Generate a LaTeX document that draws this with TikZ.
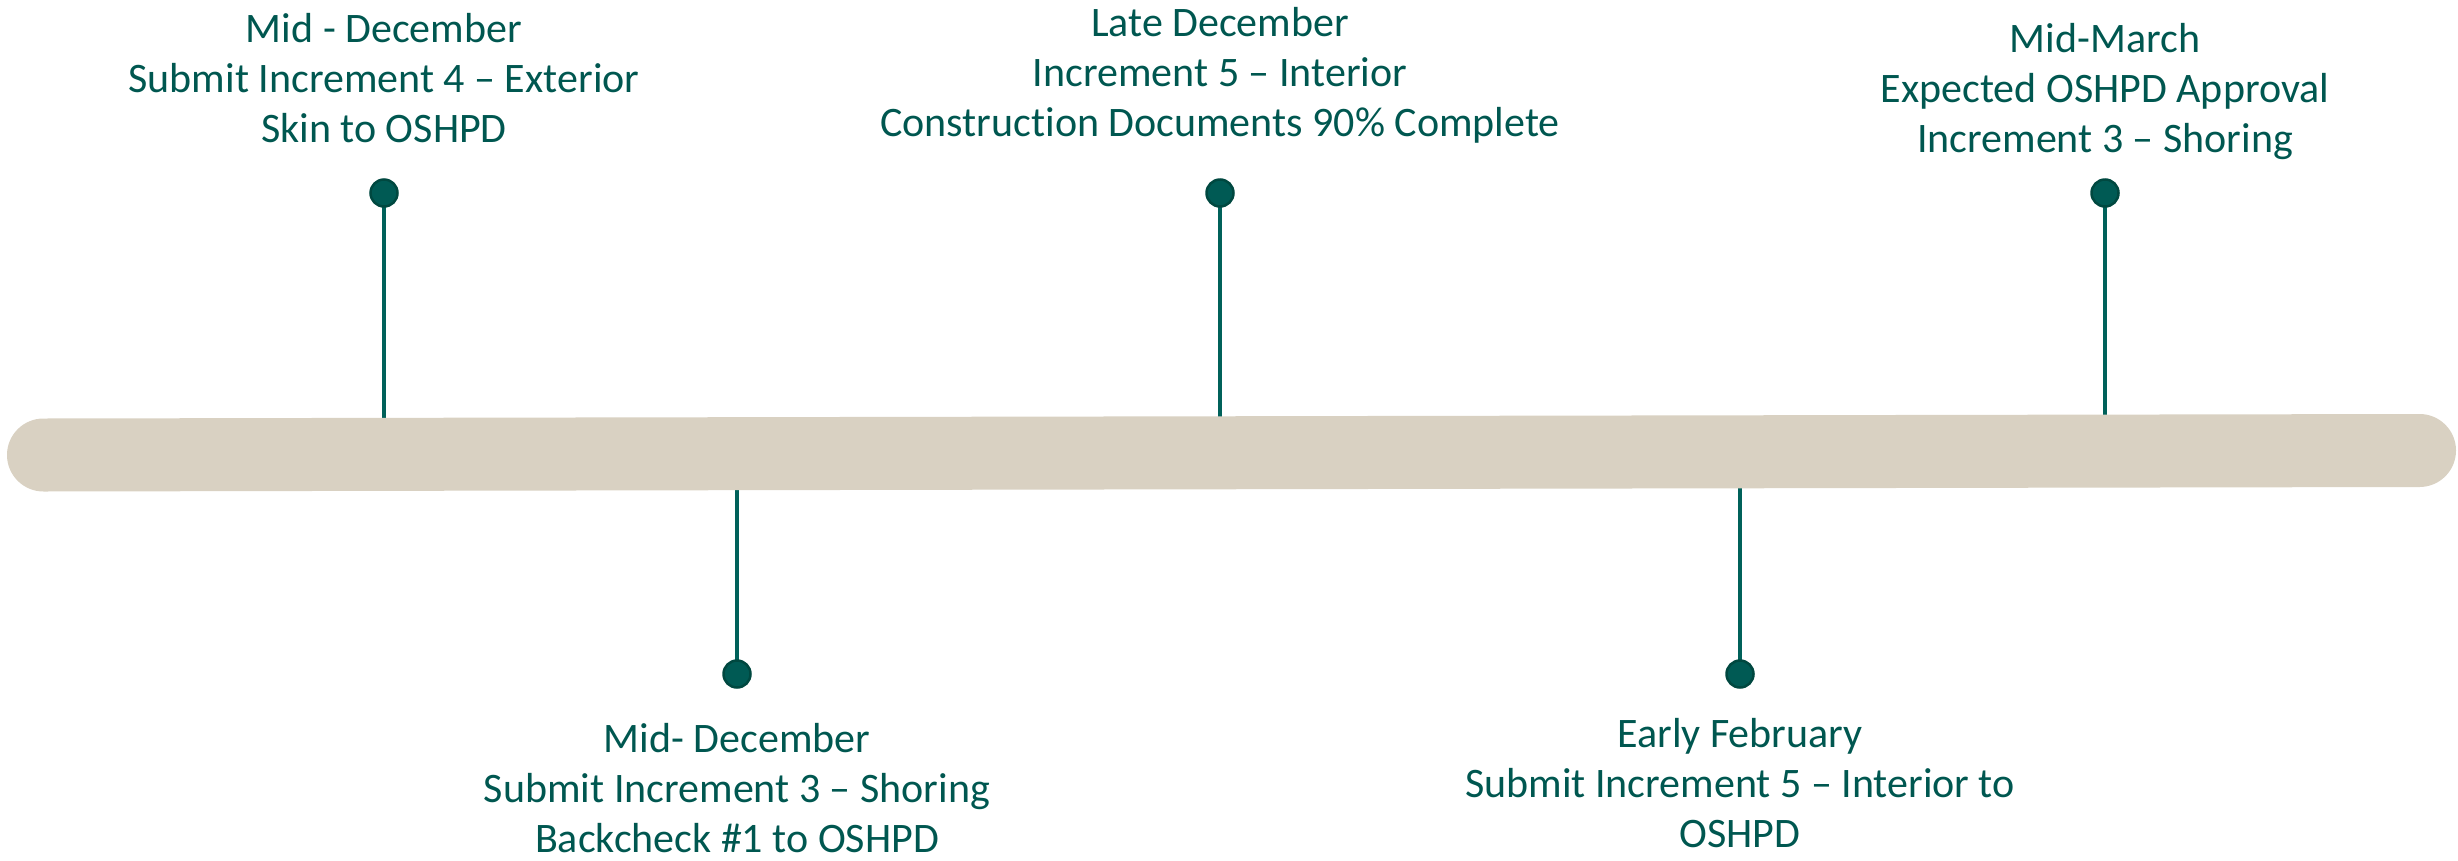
\documentclass[tikz,border=0pt]{standalone}
\usepackage{fontspec}
\setmainfont[Ligatures=NoCommon]{Carlito}
\definecolor{tealtext}{HTML}{005750}
\definecolor{tealdot}{HTML}{005A54}
\definecolor{tealedge}{HTML}{004840}
\definecolor{tealline}{HTML}{00615A}
\definecolor{barfill}{HTML}{D9D1C2}
\begin{document}
\begin{tikzpicture}[x=1pt,y=-1pt,
  lbl/.style={align=center,text=tealtext,inner sep=0pt,anchor=base,
    font=\fontsize{42}{50}\selectfont},
  dot/.style={circle,fill=tealdot,draw=tealedge,line width=2.5pt,
    minimum size=27pt,inner sep=0pt},
  stem/.style={draw=tealline,line width=4pt}]
\useasboundingbox (0,0) rectangle (2458,860);
% bar axis end points
\coordinate (barL) at (43.5,455);
\coordinate (barR) at (2419.5,450.5);
% points on the bar axis
\coordinate (b1) at (384,454);
\coordinate (b2) at (737,453);
\coordinate (b3) at (1220,453);
\coordinate (b4) at (1740,452);
\coordinate (b5) at (2105,451);
% dots
\coordinate (d1p) at (384,193);
\coordinate (d2p) at (737,674);
\coordinate (d3p) at (1220,193);
\coordinate (d4p) at (1740,674);
\coordinate (d5p) at (2105,193);
% stems
\draw[stem] (d1p) -- (b1);
\draw[stem] (d2p) -- (b2);
\draw[stem] (d3p) -- (b3);
\draw[stem] (d4p) -- (b4);
\draw[stem] (d5p) -- (b5);
% bar
\draw[barfill,line width=73pt,line cap=round] (barL) -- (barR);
% dots on top
\node[dot] (d1) at (d1p) {};
\node[dot] (d2) at (d2p) {};
\node[dot] (d3) at (d3p) {};
\node[dot] (d4) at (d4p) {};
\node[dot] (d5) at (d5p) {};
% labels (anchor base = baseline of the last line)
\node[lbl] (t1) at (384,142) {Mid - December\\Submit Increment 4 – Exterior\\Skin to OSHPD};
\node[lbl] (t3) at (1220,136) {Late December\\Increment 5 – Interior\\Construction Documents 90\% Complete};
\node[lbl] (t5) at (2105,152) {Mid-March\\Expected OSHPD Approval\\Increment 3 – Shoring};
\node[lbl] (t2) at (737,852) {Mid- December\\Submit Increment 3 – Shoring\\Backcheck \#1 to OSHPD};
\node[lbl] (t4) at (1740,847) {Early February\\Submit Increment 5 – Interior to\\OSHPD};
\end{tikzpicture}
\end{document}
